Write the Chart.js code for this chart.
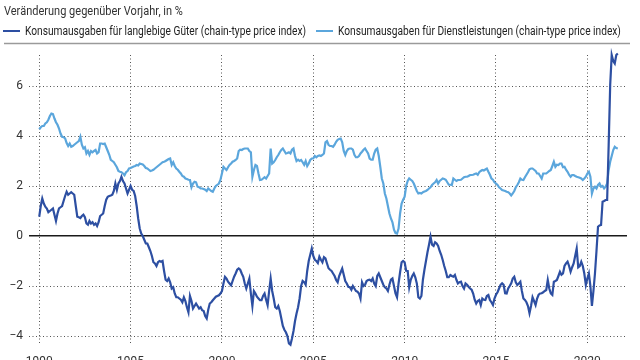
<!DOCTYPE html>
<html>
<head>
<meta charset="utf-8">
<script src="https://cdn.jsdelivr.net/npm/chart.js@4.4.1/dist/chart.umd.min.js"></script>
<style>
  html, body { margin: 0; padding: 0; background: #fff; overflow: hidden; }
  #wrap { width: 640px; height: 375px; }
</style>
</head>
<body>
<div id="wrap"><canvas id="chart" width="640" height="375"></canvas></div>
<script>
// monthly y/y changes, Jan 1990 - Sep 2021
const startYear = 1990;
const yearTicks = [1990, 1995, 2000, 2005, 2010, 2015, 2020];
const valueTicks = [-4, -2, 0, 2, 4, 6];
const titleText = 'Veränderung gegenüber Vorjahr, in %';
const seriesNames = [
  'Konsumausgaben für langlebige Güter (chain-type price index)',
  'Konsumausgaben für Dienstleistungen (chain-type price index)'
];

const durables = [
  0.77, 1.2, 1.5, 1.3, 1.17, 1.1, 0.95, 1.0, 1.05, 1.1, 0.85, 0.6,
  0.9, 1.1, 1.15, 1.2, 1.4, 1.6, 1.77, 1.65, 1.7, 1.75, 1.7, 1.65,
  1.2, 0.77, 0.75, 0.72, 0.8, 0.85, 0.75, 0.5, 0.45, 0.6, 0.5, 0.55,
  0.45, 0.5, 0.4, 0.55, 0.8, 0.85, 0.9, 1.2, 1.45, 1.57, 1.6, 1.62,
  1.65, 1.8, 2.1, 1.84, 2.1, 2.2, 2.37, 2.2, 2.1, 1.9, 1.7, 1.85,
  2.0, 1.85, 1.8, 1.6, 1.2, 0.7, 0.3, 0.1, 0.0, -0.15, -0.3, -0.3,
  -0.45, -0.6, -0.8, -1.05, -1.1, -1.2, -1.05, -1.0, -1.03, -1.0, -1.4, -1.75,
  -1.8, -1.7, -1.85, -2.1, -2.05, -2.3, -2.45, -2.45, -2.5, -2.55, -2.65, -2.45,
  -2.6, -2.85, -3.05, -2.4, -2.6, -2.9, -2.8, -2.7, -2.8, -2.9, -2.85, -2.97,
  -3.0, -3.2, -3.3, -2.95, -2.7, -2.65, -2.57, -2.5, -2.43, -2.4, -2.37, -2.3,
  -2.2, -1.9, -1.63, -1.7, -1.83, -1.9, -1.97, -1.8, -1.63, -1.5, -1.35, -1.3,
  -1.35, -1.5, -1.63, -1.9, -2.1, -1.9, -1.7, -2.3, -2.8, -2.2, -2.3, -2.43,
  -2.5, -2.57, -2.57, -2.4, -2.3, -2.55, -2.77, -2.2, -1.7, -2.2, -2.5, -2.85,
  -2.9, -2.8, -3.0, -3.3, -3.6, -3.75, -3.85, -4.0, -4.3, -4.35, -4.1, -3.8,
  -3.4, -3.1, -2.85, -2.5, -2.0, -1.8, -1.85, -1.95, -1.4, -1.0, -0.75, -0.5,
  -0.8, -0.95, -1.0, -1.08, -0.83, -0.95, -1.05, -0.85, -0.9, -1.1, -1.29, -1.35,
  -1.4, -1.5, -1.6, -1.76, -1.85, -1.6, -1.45, -1.3, -1.55, -1.8, -1.9, -2.03,
  -2.05, -2.15, -2.0, -2.1, -2.2, -2.23, -2.3, -2.5, -1.85, -2.0, -1.95, -1.8,
  -1.76, -1.75, -1.8, -1.7, -1.9, -2.0, -1.6, -1.5, -1.65, -1.8, -1.95, -2.05,
  -2.1, -2.2, -1.95, -1.75, -1.7, -2.0, -2.3, -2.45, -1.9, -1.45, -1.05, -1.0,
  -1.05, -1.39, -1.4, -2.05, -1.75, -1.6, -1.5, -1.65, -1.9, -2.45, -2.5, -2.4,
  -1.75, -1.35, -1.0, -0.65, -0.35, -0.03, -0.35, -0.4, -0.25, -0.3, -0.4, -0.6,
  -0.75, -0.96, -1.2, -1.4, -1.65, -1.65, -1.56, -1.6, -1.63, -1.56, -1.75, -1.9,
  -1.85, -1.83, -2.0, -2.1, -1.9, -1.95, -2.03, -2.1, -2.15, -2.3, -2.55, -2.7,
  -2.6, -2.56, -2.76, -2.5, -2.55, -2.56, -2.4, -2.36, -2.56, -2.65, -2.76, -2.5,
  -2.35, -2.25, -2.1, -1.95, -1.89, -1.95, -2.29, -2.3, -2.1, -2.0, -1.89, -1.7,
  -1.63, -1.85, -1.96, -1.9, -1.83, -2.2, -2.5, -2.56, -2.65, -2.8, -3.09, -2.8,
  -2.45, -2.6, -2.76, -2.5, -2.35, -2.3, -2.29, -2.25, -2.2, -2.16, -1.76, -2.1,
  -2.3, -2.36, -1.83, -1.8, -1.76, -1.6, -1.43, -1.55, -1.5, -1.2, -1.1, -1.03,
  -1.2, -1.43, -1.25, -1.1, -0.8, -0.5, -1.25, -1.2, -1.03, -1.2, -1.5, -1.96,
  -1.7, -1.5, -2.0, -2.8, -2.2, -1.5, -0.6, 0.37, 0.42, 0.44, 1.37, 1.4,
  1.44, 1.44, 3.64, 6.04, 7.24, 7.0, 6.9, 7.24, 7.3
];

const services = [
  4.27, 4.35, 4.4, 4.4, 4.5, 4.55, 4.65, 4.8, 4.9, 4.88, 4.7, 4.55,
  4.45, 4.3, 4.1, 3.97, 3.95, 3.9, 3.72, 3.6, 3.7, 3.57, 3.6, 3.65,
  3.7, 3.75, 3.8, 3.97, 3.65, 3.5, 3.55, 3.3, 3.4, 3.25, 3.4, 3.35,
  3.4, 3.44, 3.3, 3.35, 3.7, 3.7, 3.68, 3.7, 3.55, 3.4, 3.25, 3.05,
  3.0, 2.95, 2.85, 2.75, 2.6, 2.57, 2.55, 2.5, 2.43, 2.55, 2.6, 2.7,
  2.72, 2.75, 2.78, 2.8, 2.84, 2.82, 2.9, 2.88, 2.86, 2.8, 2.72, 2.7,
  2.65, 2.6, 2.62, 2.65, 2.7, 2.75, 2.8, 2.85, 2.9, 2.95, 2.97, 3.0,
  3.04, 3.08, 3.1, 2.84, 2.95, 2.8, 2.7, 2.65, 2.57, 2.5, 2.4, 2.37,
  2.3, 2.28, 2.25, 2.24, 1.95, 2.1, 2.17, 2.15, 1.97, 1.95, 1.9, 1.9,
  1.88, 1.85, 1.8, 1.9, 1.85, 1.8, 1.77, 1.9, 2.0, 2.05, 2.1, 2.24,
  2.5, 2.77, 2.7, 2.64, 2.75, 2.84, 2.9, 2.97, 3.0, 3.04, 3.1, 3.4,
  3.45, 3.44, 3.48, 3.5, 3.5, 3.5, 3.4, 3.35, 2.37, 2.64, 2.84, 2.8,
  2.5, 2.24, 2.25, 2.3, 2.35, 2.3, 2.4, 2.5, 3.5, 2.9, 2.95, 3.04,
  3.15, 3.24, 3.35, 3.44, 3.5, 3.4, 3.3, 3.32, 3.35, 3.3, 3.45, 3.5,
  3.2, 3.0, 3.05, 3.0, 3.04, 2.95, 2.85, 3.0, 2.8, 2.9, 3.04, 3.1,
  3.1, 3.2, 3.15, 3.2, 3.22, 3.2, 3.24, 3.3, 3.75, 3.8, 3.65, 3.6,
  3.6, 3.57, 3.65, 3.77, 3.85, 3.88, 3.9, 3.75, 3.4, 3.24, 3.4, 3.48,
  3.5, 3.5, 3.45, 3.25, 3.15, 3.15, 3.2, 3.3, 3.37, 3.45, 3.5, 3.4,
  3.3, 3.1, 3.05, 3.05, 3.3, 3.45, 3.5, 3.2, 2.77, 2.3, 2.1, 1.7,
  1.5, 1.2, 0.9, 0.7, 0.55, 0.25, 0.12, 0.1, 0.3, 0.9, 1.3, 1.45,
  1.57, 2.0, 2.2, 2.3, 2.25, 2.2, 2.1, 1.95, 1.8, 1.7, 1.72, 1.7,
  1.75, 1.78, 1.8, 1.84, 1.9, 1.95, 2.04, 2.1, 2.15, 2.24, 2.1, 2.2,
  2.25, 2.3, 2.28, 2.25, 2.15, 2.05, 2.05, 2.04, 2.3, 2.25, 2.2, 2.24,
  2.24, 2.25, 2.3, 2.35, 2.37, 2.37, 2.4, 2.44, 2.44, 2.45, 2.48, 2.5,
  2.45, 2.55, 2.6, 2.64, 2.62, 2.66, 2.7, 2.57, 2.45, 2.3, 2.25, 2.15,
  2.1, 2.04, 1.95, 1.9, 1.84, 1.82, 1.8, 1.77, 1.75, 1.7, 1.62, 1.7,
  1.8, 1.95, 2.04, 2.15, 2.3, 2.25, 2.24, 2.35, 2.45, 2.55, 2.67, 2.7,
  2.7, 2.65, 2.6, 2.5, 2.5, 2.4, 2.3, 2.5, 2.5, 2.5, 2.55, 2.6,
  2.64, 2.8, 2.97, 2.77, 2.85, 2.84, 2.9, 2.9, 2.75, 2.77, 2.65, 2.57,
  2.45, 2.37, 2.44, 2.44, 2.4, 2.37, 2.35, 2.33, 2.3, 2.24, 2.3, 2.37,
  2.5, 2.57, 2.37, 1.7, 1.9, 1.97, 1.9, 2.04, 2.1, 1.97, 2.0, 1.9,
  1.97, 2.1, 2.64, 2.97, 3.2, 3.44, 3.57, 3.52, 3.5
];

const FONT = "Roboto, 'Liberation Sans', sans-serif";
const toPoints = arr => arr.map((v, i) => ({ x: startYear + i / 12, y: v }));

// title + legend in a squeezed face (the original uses a condensed font),
// plus the grey rule under the legend
const header = {
  id: 'header',
  afterDraw(chart) {
    const c = chart.ctx;
    c.save();
    c.textBaseline = 'middle';
    c.font = '12px ' + FONT;
    const squeeze = 281 / c.measureText(seriesNames[0]).width;
    const text = (t, x, y, color, size) => {
      c.save();
      c.font = size + 'px ' + FONT;
      c.fillStyle = color;
      c.translate(x, y);
      c.scale(squeeze, 1);
      c.fillText(t, 0, 0);
      const w = c.measureText(t).width * squeeze;
      c.restore();
      return w;
    };
    text(titleText, 4, 12, '#333', 13);
    let x = 3;
    chart.data.datasets.forEach(ds => {
      c.fillStyle = ds.borderColor;
      c.fillRect(x, 30, 17, 2);
      x += 22 + text(ds.label, x + 22, 31.5, '#222', 12) + 10;
    });
    c.strokeStyle = '#9a9a9a';
    c.lineWidth = 1.5;
    c.beginPath();
    c.moveTo(4, 43.5);
    c.lineTo(630, 43.5);
    c.stroke();
    c.restore();
  }
};

Chart.defaults.font.family = FONT;
Chart.defaults.color = '#333';

const ctx = document.getElementById('chart').getContext('2d');
const chart = new Chart(ctx, {
  type: 'line',
  data: {
    datasets: [
      {
        label: seriesNames[0],
        data: toPoints(durables),
        borderColor: '#2d4fa2',
        backgroundColor: '#2d4fa2',
        borderWidth: 2.2,
        pointRadius: 0,
        clip: false
      },
      {
        label: seriesNames[1],
        data: toPoints(services),
        borderColor: '#5ba6dc',
        backgroundColor: '#5ba6dc',
        borderWidth: 2.2,
        pointRadius: 0,
        clip: false
      }
    ]
  },
  options: {
    responsive: false,
    animation: false,
    devicePixelRatio: 1,
    layout: { padding: { left: 0, right: 13, top: 55, bottom: 0 } },
    plugins: {
      title: { display: false },
      legend: { display: false },
      tooltip: { enabled: false }
    },
    scales: {
      x: {
        type: 'linear',
        min: 1989.44,
        max: 2022.17,
        afterBuildTicks: s => { s.ticks = yearTicks.map(v => ({ value: v })); },
        afterFit: s => { s.height = 30; },
        ticks: {
          padding: 10,
          maxRotation: 0,
          font: { size: 12 },
          callback: v => String(v)
        },
        grid: { color: '#555', lineWidth: 1, drawTicks: false },
        border: { display: false, dash: [1, 2.5] }
      },
      y: {
        min: -4.36,
        max: 7.24,
        afterBuildTicks: s => { s.ticks = valueTicks.map(v => ({ value: v })); },
        afterFit: s => { s.width = 29; },
        ticks: {
          padding: 6,
          font: { size: 12 },
          callback: v => (v < 0 ? '\u2212' + Math.abs(v) : String(v))
        },
        grid: {
          drawTicks: false,
          color: c => (c.tick && c.tick.value === 0 ? '#1a1a1a' : '#555'),
          lineWidth: c => (c.tick && c.tick.value === 0 ? 1.5 : 1)
        },
        border: {
          display: false,
          dash: c => (c.tick && c.tick.value === 0 ? [] : [1, 2.5])
        }
      }
    }
  },
  plugins: [header]
});
</script>
</body>
</html>
